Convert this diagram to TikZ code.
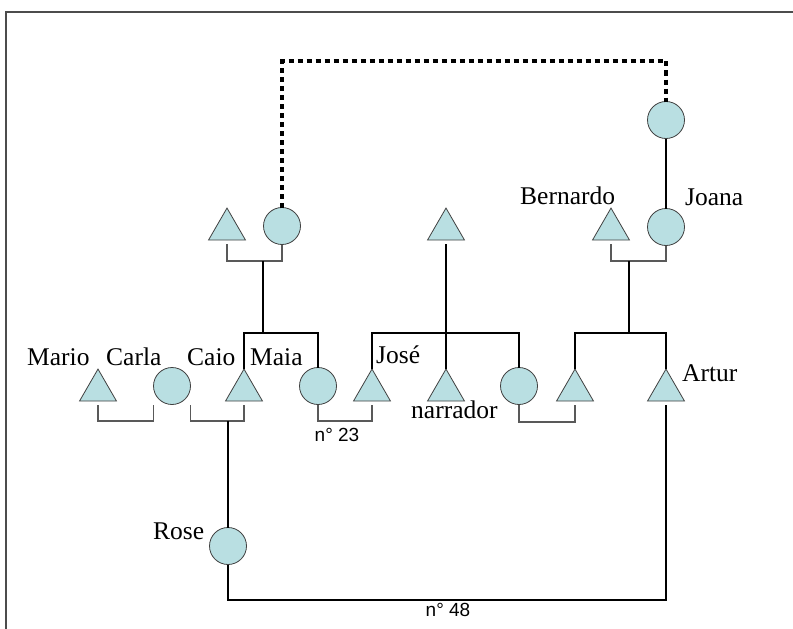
\documentclass[tikz,border=0pt]{standalone}
\usepackage{fontspec}
\setmainfont{Liberation Serif}
\newfontfamily\arialf{Liberation Sans}
\usetikzlibrary{shapes.geometric}
\definecolor{shapefill}{RGB}{185,223,226}
\begin{document}
\begin{tikzpicture}[x=1pt,y=-1pt,
  tri/.style={regular polygon, regular polygon sides=3, minimum size=42.7pt, inner sep=0pt, outer sep=0pt, draw=black!75, line width=0.8pt, fill=shapefill},
  circ/.style={circle, minimum size=37pt, inner sep=0pt, outer sep=0pt, draw=black!75, line width=0.8pt, fill=shapefill},
  lbl/.style={font=\fontsize{25.5}{30}\selectfont, inner sep=0pt, anchor=base west},
  num/.style={font=\arialf\fontsize{19}{22}\selectfont, inner sep=0pt},
  descent/.style={line width=2pt, black},
  bracket/.style={line width=1.2pt, black!65},
  kin/.style={dash pattern=on 5pt off 4pt, line width=3.2pt, black},
  frameline/.style={line width=1.2pt, black!70}]
\useasboundingbox (0,0) rectangle (793,629);
\draw[frameline] (793,12) -- (6,12) -- (6,629);

% shapes
\node[tri] (f1) at (227,229.4) {};
\node[circ] (m1) at (282,226) {};
\node[tri] (f2) at (446,229.4) {};
\node[tri] (bern) at (611,229.4) {};
\node[circ] (joana) at (666,227) {};
\node[circ] (jm) at (666,120) {};
\node[tri] (mario) at (98,390.4) {};
\node[circ] (carla) at (172,386) {};
\node[tri] (caio) at (244,390.4) {};
\node[circ] (maia) at (318,386) {};
\node[tri] (jose) at (372,390.4) {};
\node[tri] (narr) at (446,390.4) {};
\node[circ] (sis) at (519,386) {};
\node[tri] (bil) at (575,390.4) {};
\node[tri] (artur) at (666,390.4) {};
\node[circ] (rose) at (228,546) {};

% dashed link
\draw[kin] (m1.north) -- (m1.north |- 0,61) -| (jm.north);
\draw[descent, line width=1.5pt] (jm.south) -- (joana.north);

% top brackets
\draw[bracket] (f1.south |- 0,244) -- (f1.south |- 0,261) -- (m1.south |- 0,261) -- (m1.south);
\draw[bracket] (bern.south |- 0,244) -- (bern.south |- 0,261) -- (joana.south |- 0,261) -- (joana.south);
\coordinate (u1) at (263,261);
\coordinate (u3) at (629,261);

% descent lines
\draw[descent] (u1) -- (u1 |- 0,333);
\draw[descent] (caio.north) -- (caio.north |- 0,333) -- (maia.north |- 0,333) -- (maia.north);
\draw[descent] ([yshift=-4pt]f2.south) -- (narr.north);
\draw[descent] (jose.north) -- (jose.north |- 0,333) -- (sis.north |- 0,333) -- (sis.north);
\draw[descent] (u3) -- (u3 |- 0,333);
\draw[descent] (bil.north) -- (bil.north |- 0,333) -- (artur.north |- 0,333) -- (artur.north);

% bottom brackets
\draw[bracket] (mario.south |- 0,405) -- (mario.south |- 0,421) -- (carla.west |- 0,421) -- (carla.west |- 0,405);
\draw[bracket] (carla.east |- 0,405) -- (carla.east |- 0,421) -- (caio.south |- 0,421) -- (caio.south |- 0,405);
\draw[bracket] (maia.south) -- (maia.south |- 0,421) -- (jose.south |- 0,421) -- (jose.south |- 0,405);
\draw[bracket] (sis.south) -- (sis.south |- 0,422) -- (bil.south |- 0,422) -- (bil.south |- 0,405);

% Rose and Artur
\coordinate (u4) at (228,421);
\draw[descent] (u4) -- (rose.north);
\draw[descent] (rose.south) -- (rose.south |- 0,600) -- (artur.south |- 0,600) -- ([yshift=-4pt]artur.south);

% labels
\node[lbl] (lmario) at (27,365) {Mario};
\node[lbl] (lcarla) at (106,365) {Carla};
\node[lbl] (lcaio) at (187,365) {Caio};
\node[lbl] (lmaia) at (250,365) {Maia};
\node[lbl] (ljose) at (376,363) {José};
\node[lbl] (lnarr) at (411,418) {narrador};
\node[lbl] (lartur) at (682,381) {Artur};
\node[lbl] (lbern) at (520,204) {Bernardo};
\node[lbl] (ljoana) at (685,205) {Joana};
\node[lbl] (lrose) at (153,539) {Rose};
\node[num] (n23) at (337,435) {n° 23};
\node[num] (n48) at (448,610) {n° 48};
\end{tikzpicture}
\end{document}
